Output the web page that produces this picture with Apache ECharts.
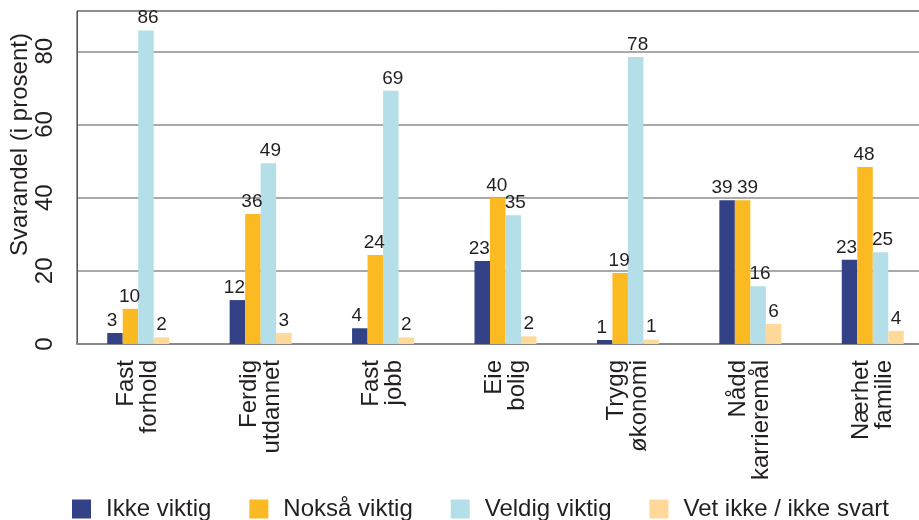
<!DOCTYPE html>
<html>
<head>
<meta charset="utf-8">
<script src="https://cdn.jsdelivr.net/npm/echarts@6/dist/echarts.min.js"></script>
<style>
  html, body { margin: 0; padding: 0; background: #fff; }
  #chart { width: 919px; height: 520px; }
</style>
</head>
<body>
<div id="chart"></div>
<script>
const categories = [
  'Fast\nforhold', 'Ferdig\nutdannet', 'Fast\njobb', 'Eie\nbolig',
  'Trygg\nøkonomi', 'Nådd\nkarrieremål', 'Nærhet\nfamilie'
];
const ikkeViktig = [3, 12, 4.3, 22.7, 1.1, 39.3, 23];
const noksaViktig = [9.6, 35.5, 24.3, 39.9, 19.4, 39.3, 48.4];
const veldigViktig = [85.7, 49.4, 69.2, 35.2, 78.4, 15.8, 25.1];
const vetIkke = [1.8, 3, 1.8, 2.1, 1.2, 5.5, 3.6];
const yTicks = [0, 20, 40, 60, 80];

const FONT = "'Liberation Sans', Arial, sans-serif";
const TEXT = '#231f20';
const colors = ['#334186', '#fbb922', '#b5dfe8', '#fed999'];
const labelNudge = [-3, -1, 2, 0];

function labelShift(p) {
  const i = p.dataIndex;
  // neighbours with the same height: spread the two labels apart
  if (Math.abs(ikkeViktig[i] - noksaViktig[i]) < 3) {
    if (p.seriesIndex === 0) return { dx: -5 };
    if (p.seriesIndex === 1) return { dx: 5 };
  }
  return { dx: labelNudge[p.seriesIndex] };
}

function barSeries(name, data, color) {
  return {
    name,
    type: 'bar',
    data,
    barWidth: 15.5,
    barGap: '0%',
    itemStyle: { color },
    label: {
      show: true,
      position: 'top',
      distance: 3,
      color: TEXT,
      fontSize: 19,
      fontFamily: FONT,
      formatter: (p) => String(Math.round(p.value)),
    },
    labelLayout: labelShift,
  };
}

const chart = echarts.init(document.getElementById('chart'), null, { renderer: 'canvas' });

chart.setOption({
  animation: false,
  color: colors,
  textStyle: { fontFamily: FONT, color: TEXT },
  grid: {
    left: 77,
    top: 11,
    width: 857,
    bottom: 176,
    containLabel: false,
    outerBoundsMode: 'none',
    show: true,
    borderColor: '#333',
    borderWidth: 1,
  },
  legend: {
    left: 72,
    top: 497,
    padding: 0,
    itemWidth: 19,
    itemHeight: 19,
    itemGap: 38,
    icon: 'rect',
    textStyle: { fontSize: 24, lineHeight: 19, color: TEXT, fontFamily: FONT, padding: [0, 0, 0, 10] },
    data: ['Ikke viktig', 'Nokså viktig', 'Veldig viktig', 'Vet ikke / ikke svart'],
  },
  xAxis: {
    type: 'category',
    data: categories,
    axisLine: { lineStyle: { color: '#888', width: 2 } },
    axisTick: { show: false },
    axisLabel: {
      interval: 0,
      rotate: 90,
      margin: 16,
      fontSize: 24,
      lineHeight: 23,
      color: TEXT,
      fontFamily: FONT,
      align: 'right',
    },
  },
  yAxis: {
    type: 'value',
    min: 0,
    max: 91,
    interval: 20,
    name: 'Svarandel (i prosent)',
    nameLocation: 'middle',
    nameRotate: 90,
    nameGap: 45,
    nameMoveOverlap: false,
    nameTextStyle: { fontSize: 24, color: TEXT, fontFamily: FONT, padding: [0, 0, 0, 66] },
    axisLine: { show: true, lineStyle: { color: '#555', width: 1 } },
    axisTick: { show: false },
    splitLine: { lineStyle: { color: '#8c8c8c', width: 1.5 } },
    axisLabel: {
      rotate: 90,
      margin: 20,
      fontSize: 24,
      color: TEXT,
      fontFamily: FONT,
      showMaxLabel: false,
      formatter: (v) => (yTicks.includes(v) ? String(v) : ''),
    },
  },
  series: [
    barSeries('Ikke viktig', ikkeViktig, colors[0]),
    barSeries('Nokså viktig', noksaViktig, colors[1]),
    barSeries('Veldig viktig', veldigViktig, colors[2]),
    barSeries('Vet ikke / ikke svart', vetIkke, colors[3]),
  ],
});
</script>
</body>
</html>
